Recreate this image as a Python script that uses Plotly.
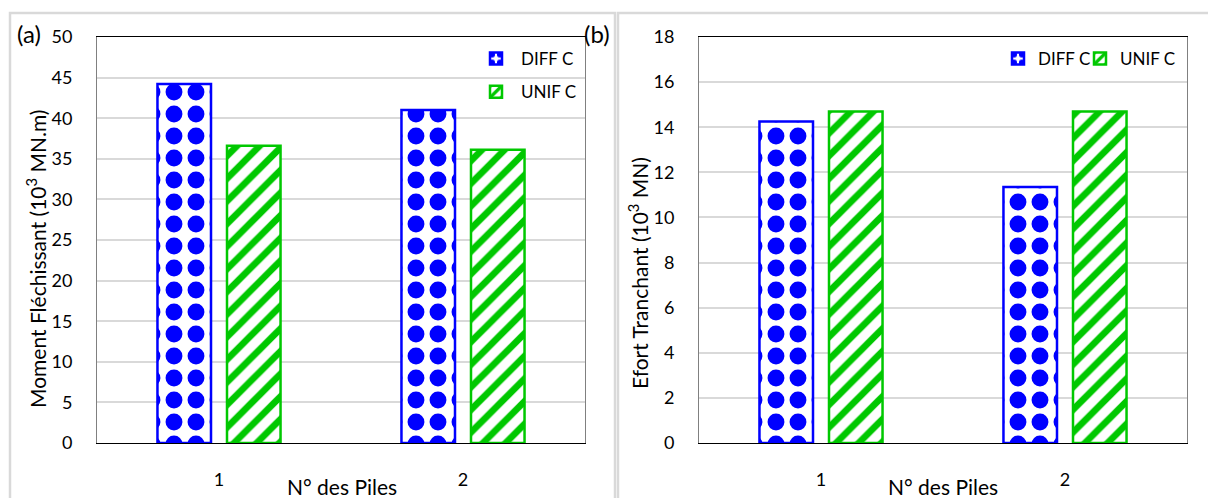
import plotly.graph_objects as go

# ---- data ----
categories = ["1", "2"]
series_names = ["DIFF C", "UNIF C"]
moment_diff = [44.2, 41.0]
moment_unif = [36.6, 36.1]
effort_diff = [14.25, 11.35]
effort_unif = [14.7, 14.7]

W, H = 1208, 498
FONT = "Lato"
BLUE = "#0000FF"
GREEN = "#00C800"


def px(x):
    return x / W


def py(y):
    return 1 - y / H


fig = go.Figure()

diff_style = dict(
    color="white",
    line=dict(color=BLUE, width=2.5),
    pattern=dict(shape=".", fgcolor=BLUE, bgcolor="white", size=22, solidity=0.46, fillmode="replace"),
)
unif_style = dict(
    color="white",
    line=dict(color=GREEN, width=2.5),
    pattern=dict(shape="/", fgcolor=GREEN, bgcolor="white", size=16, solidity=0.42, fillmode="replace"),
)

fig.add_trace(go.Bar(x=categories, y=moment_diff, name=series_names[0], marker=diff_style,
                     xaxis="x", yaxis="y", legend="legend", legendgroup="a1"))
fig.add_trace(go.Bar(x=categories, y=moment_unif, name=series_names[1], marker=unif_style,
                     xaxis="x", yaxis="y", legend="legend", legendgroup="a2"))
fig.add_trace(go.Bar(x=categories, y=effort_diff, name=series_names[0], marker=diff_style,
                     xaxis="x2", yaxis="y2", legend="legend2", legendwidth=37))
fig.add_trace(go.Bar(x=categories, y=effort_unif, name=series_names[1], marker=unif_style,
                     xaxis="x2", yaxis="y2", legend="legend2"))

ydom = [py(443), py(37)]
tickfont = dict(family=FONT, size=18, color="#000000")

xcommon = dict(
    showgrid=False, showline=True, linecolor="#000000", linewidth=1, mirror=True,
    ticks="", tickfont=tickfont, ticklabelstandoff=20, automargin=False, fixedrange=True,
)
ycommon = dict(
    showgrid=True, gridcolor="#D9D9D9", gridwidth=1.5, showline=True, linecolor="#808080",
    linewidth=1, mirror=True, ticks="", tickfont=tickfont, ticklabelstandoff=20,
    automargin=False, zeroline=False, fixedrange=True,
)

fig.update_layout(
    width=W, height=H,
    margin=dict(l=0, r=0, t=0, b=0),
    paper_bgcolor="white", plot_bgcolor="white",
    template="none",
    barmode="group", bargap=0.43, bargroupgap=0.23,
    font=dict(family=FONT, size=18, color="#000000"),
    xaxis=dict(domain=[px(97), px(585)], anchor="y", **xcommon),
    yaxis=dict(domain=ydom, anchor="x", range=[0, 50], dtick=5, **ycommon),
    xaxis2=dict(domain=[px(699), px(1187)], anchor="y2", **xcommon),
    yaxis2=dict(domain=ydom, anchor="x2", range=[0, 18], dtick=2, **ycommon),
    legend=dict(
        x=px(471), y=py(41), xanchor="left", yanchor="top", orientation="v",
        font=dict(family=FONT, size=17, color="#000000"), itemwidth=40,
        tracegroupgap=8, bgcolor="rgba(0,0,0,0)", traceorder="grouped",
    ),
    legend2=dict(
        x=px(998), y=py(41), xanchor="left", yanchor="top", orientation="h",
        font=dict(family=FONT, size=17, color="#000000"), itemwidth=30,
        bgcolor="rgba(0,0,0,0)", traceorder="normal",
    ),
    showlegend=True,
)

# panel frames
fig.add_shape(type="rect", xref="paper", yref="paper", x0=px(10), x1=px(615), y0=-0.05, y1=py(13),
              line=dict(color="#D9D9D9", width=2.5), layer="below")
fig.add_shape(type="rect", xref="paper", yref="paper", x0=px(618), x1=1.05, y0=-0.05, y1=py(13),
              line=dict(color="#D9D9D9", width=2.5), layer="below")

annos = [
    dict(text="(a)", x=px(29), y=py(33)),
    dict(text="(b)", x=px(597), y=py(33)),
    dict(text="N° des Piles", x=px(342), y=py(486)),
    dict(text="N° des Piles", x=px(943), y=py(486)),
    dict(text="Moment Fléchissant (10<sup>3</sup> MN.m)", x=px(36), y=py(259), textangle=-90),
    dict(text="Efort Tranchant (10<sup>3</sup> MN)", x=px(638), y=py(273), textangle=-90),
]
for a in annos:
    size = 24 if a["text"].startswith("(") else 21
    fig.add_annotation(xref="paper", yref="paper", showarrow=False, xanchor="center", yanchor="middle",
                       font=dict(family=FONT, size=size, color="#000000"), **a)

fig.write_html("out.html")
